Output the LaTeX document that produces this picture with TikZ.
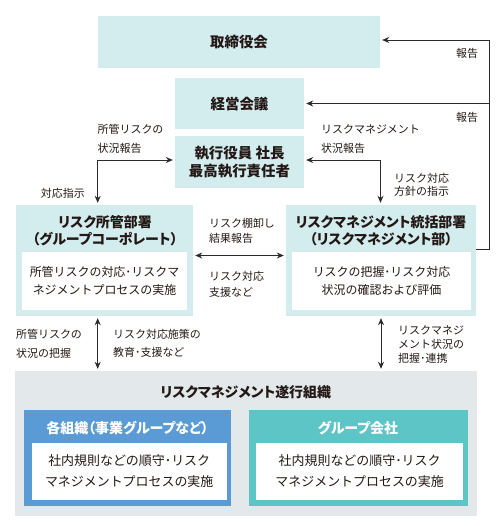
\documentclass[tikz,border=0pt]{standalone}
\usepackage{fontspec}
\setmainfont{Noto Sans CJK JP}
\newfontfamily\ttlfont{Noto Sans CJK JP}[RawFeature=+palt]
\usetikzlibrary{arrows.meta}
\definecolor{boxlt}{HTML}{D3ECEE}
\definecolor{bluebox}{HTML}{5B9BD5}
\definecolor{tealbox}{HTML}{5EC5C6}
\definecolor{graybox}{HTML}{E3E8EB}
\definecolor{txt}{HTML}{231815}
\definecolor{linec}{HTML}{2B2B2B}
\tikzset{
  panel/.style={fill=boxlt, draw=none, inner sep=0pt},
  whitebox/.style={fill=white, draw=none, inner sep=0pt, align=center, text=txt,
    font=\fontsize{12}{18}\selectfont},
  ttl/.style={inner sep=0pt, align=center, text=txt, font=\ttlfont\bfseries\fontsize{14}{17}\selectfont},
  lbl/.style={inner sep=0pt, align=left, text=txt, font=\fontsize{11}{18}\selectfont},
  conn/.style={draw=linec, line width=0.8bp, shorten >=2bp, -{Stealth[length=7bp,width=6bp]}},
  dconn/.style={draw=linec, line width=0.8bp, shorten >=2bp, shorten <=2bp,
    {Stealth[length=7bp,width=6bp]}-{Stealth[length=7bp,width=6bp]}},
  plain/.style={draw=linec, line width=0.8bp},
}
\begin{document}
\begin{tikzpicture}[x=1bp,y=-1bp]
\useasboundingbox (0,0) rectangle (500,526);

% top boxes
\node[panel, ttl, fill=boxlt, font=\ttlfont\bfseries\fontsize{14.5}{17}\selectfont,
  minimum width=282bp, minimum height=52bp] (board) at (239,42) {取締役会};
\node[panel, ttl, fill=boxlt, font=\ttlfont\bfseries\fontsize{14.5}{17}\selectfont,
  minimum width=129bp, minimum height=51bp] (mgmt) at (239.5,103.5) {経営会議};
\node[panel, ttl, fill=boxlt, font=\ttlfont\bfseries\fontsize{14.5}{18}\selectfont,
  minimum width=129bp, minimum height=52bp] (exec) at (239.5,162) {執行役員 社長\\最高執行責任者};

% department boxes
\node[panel, minimum width=177bp, minimum height=111bp] (ldept) at (104.5,260.5) {};
\node[whitebox, minimum width=165bp, minimum height=58bp] (linner) at (104.5,281)
  {所管リスクの対応･リスクマ\\ネジメントプロセスの実施};
\node[ttl] (ltitle) at (105,230.5) {リスク所管部署\\（グループコーポレート）};

\node[panel, minimum width=190bp, minimum height=111bp] (rdept) at (381,260.5) {};
\node[whitebox, minimum width=179bp, minimum height=58bp] (rinner) at (381.5,281)
  {リスクの把握･リスク対応\\状況の確認および評価};
\node[ttl] (rtitle) at (381,230.5) {リスクマネジメント統括部署\\（リスクマネジメント部）};

% execution organisation
\node[fill=graybox, inner sep=0pt, minimum width=462bp, minimum height=145bp] (gray) at (246,443.5) {};
\node[ttl] (gtitle) at (245.7,392) {リスクマネジメント遂行組織};

\node[fill=bluebox, inner sep=0pt, minimum width=207bp, minimum height=95.5bp] (blue) at (127.5,457.75) {};
\node[ttl, text=white] (btitle) at (127.5,427.7) {各組織（事業グループなど）};
\node[whitebox, font=\fontsize{13}{21}\selectfont, minimum width=195bp, minimum height=57.3bp] (binner) at (129.2,471.35)
  {社内規則などの順守･リスク\\マネジメントプロセスの実施};

\node[fill=tealbox, inner sep=0pt, minimum width=218.7bp, minimum height=95.5bp] (teal) at (358.35,457.75) {};
\node[ttl, text=white] (ttitle) at (358,427.7) {グループ会社};
\node[whitebox, font=\fontsize{13}{21}\selectfont, minimum width=207.3bp, minimum height=57.3bp] (tinner) at (359.65,471.35)
  {社内規則などの順守･リスク\\マネジメントプロセスの実施};

% connectors
\coordinate (rj) at (489,249.3);
\draw[plain] (rdept.east |- rj) -- (rj) -- (rj |- 0,40);
\draw[conn] (rj |- 0,40) -- (board.east |- 0,40);
\draw[conn] (rj |- mgmt.east) -- (mgmt.east);

\coordinate (lc) at (97.7,160);
\draw[dconn] (exec.west |- lc) -- (lc) -- (lc |- ldept.north);
\coordinate (rc) at (380.5,160);
\draw[dconn] (exec.east |- rc) -- (rc) -- (rc |- rdept.north);

\coordinate (mc) at (239,255.5);
\draw[dconn] (ldept.east |- mc) -- (rdept.west |- mc);

\coordinate (lv) at (97.7,340);
\draw[dconn] (lv |- ldept.south) -- (lv |- gray.north);
\coordinate (rv) at (381,340);
\draw[dconn] (rv |- rdept.south) -- (rv |- gray.north);

% labels
\node[lbl, anchor=west] (l1) at (456,53) {報告};
\node[lbl, anchor=west] (l2) at (456,117.5) {報告};
\node[lbl, anchor=west, font=\fontsize{11}{18.5}\selectfont] (l3) at (97.5,139) {所管リスクの\\状況報告};
\node[lbl, anchor=east] (l4) at (85,193) {対応指示};
\node[lbl, anchor=west, font=\fontsize{11}{18.5}\selectfont] (l5) at (321,139) {リスクマネジメント\\状況報告};
\node[lbl, anchor=west, font=\fontsize{11}{13}\selectfont] (l6) at (394,185) {リスク対応\\方針の指示};
\node[lbl, anchor=west, font=\fontsize{11}{15}\selectfont] (l7) at (209,230.5) {リスク棚卸し\\結果報告};
\node[lbl, anchor=west, font=\fontsize{11}{16}\selectfont] (l8) at (209,284) {リスク対応\\支援など};
\node[lbl, anchor=west, font=\fontsize{11}{18.7}\selectfont] (l9) at (16,343.5) {所管リスクの\\状況の把握};
\node[lbl, anchor=west, font=\fontsize{11}{18.7}\selectfont] (l10) at (113,343.5) {リスク対応施策の\\教育･支援など};
\node[lbl, anchor=west, font=\fontsize{11}{14.5}\selectfont] (l11) at (398,344.5) {リスクマネジ\\メント状況の\\把握･連携};
\end{tikzpicture}
\end{document}
